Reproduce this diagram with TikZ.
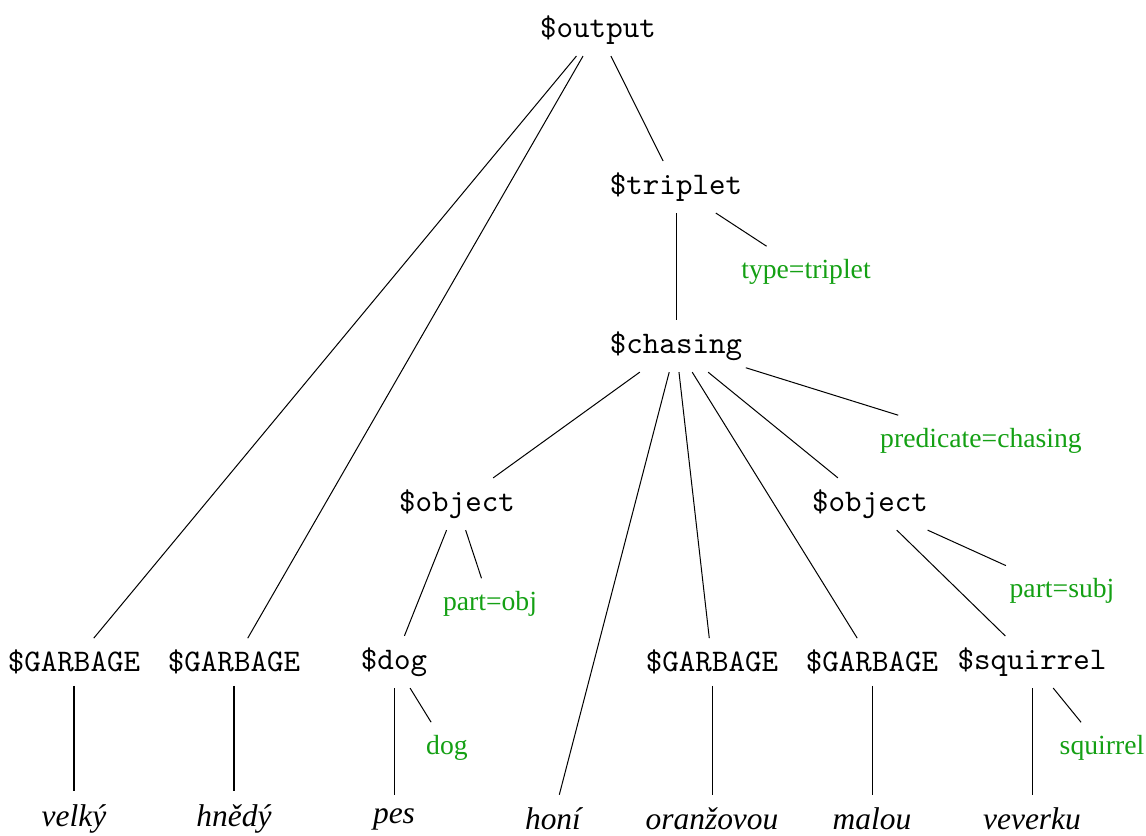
\documentclass[tikz,border=0pt]{standalone}
\usepackage{fontspec}
\setmainfont{Liberation Serif}
\setmonofont{Latin Modern Mono}
\definecolor{attrgreen}{RGB}{20,160,20}
\begin{document}
\begin{tikzpicture}[x=0.318pt,y=-0.318pt,
  nt/.style={font=\ttfamily, inner xsep=1pt, inner ysep=3.5pt},
  word/.style={font=\itshape, inner xsep=1pt, inner ysep=4pt},
  attr/.style={font=\fontsize{8.8}{10}\selectfont, text=attrgreen, inner xsep=1pt, inner ysep=4pt},
  edge/.style={draw, line width=0.32pt}]
\useasboundingbox (0,0) rectangle (1146,836);

% nonterminals
\node[nt] (out) at (598,30) {\$output};
\node[nt] (trip) at (676,187) {\$triplet};
\node[nt] (chase) at (676,346) {\$chasing};
\node[nt] (objL) at (457,504) {\$object};
\node[nt] (objR) at (870,504) {\$object};
\node[nt] (g1) at (74,662) {\$GARBAGE};
\node[nt] (g2) at (234,662) {\$GARBAGE};
\node[nt] (dog) at (394,662) {\$dog};
\node[nt] (g3) at (712,662) {\$GARBAGE};
\node[nt] (g4) at (872,662) {\$GARBAGE};
\node[nt] (sq) at (1032,662) {\$squirrel};

% attributes
\node[attr] (atrip) at (806,272) {type=triplet};
\node[attr] (apred) at (981,441) {predicate=chasing};
\node[attr] (aobj) at (490,604) {part=obj};
\node[attr] (asubj) at (1062,591) {part=subj};
\node[attr] (adog) at (447,748) {dog};
\node[attr] (asq) at (1102,748) {squirrel};

% words
\node[word] (w1) at (74,819) {velký};
\node[word] (w2) at (234,819) {hnědý};
\node[word] (w3) at (394,819) {pes};
\node[word] (w4) at (553,819) {honí};
\node[word] (w5) at (712,819) {oranžovou};
\node[word] (w6) at (872,819) {malou};
\node[word] (w7) at (1032,819) {veverku};

% edges
\draw[edge] (out) -- (g1);
\draw[edge] (out) -- (g2);
\draw[edge] (out) -- (trip);
\draw[edge] (trip) -- (atrip);
\draw[edge] (trip) -- (chase);
\draw[edge] (chase) -- (objL);
\draw[edge] (chase) -- (w4);
\draw[edge] (chase) -- (g3);
\draw[edge] (chase) -- (g4);
\draw[edge] (chase) -- (objR);
\draw[edge] (chase) -- (apred);
\draw[edge] (objL) -- (dog);
\draw[edge] (objL) -- (aobj);
\draw[edge] (objR) -- (sq);
\draw[edge] (objR) -- (asubj);
\draw[edge] (g1) -- (w1);
\draw[edge] (g2) -- (w2);
\draw[edge] (dog) -- (w3);
\draw[edge] (dog) -- (adog);
\draw[edge] (g3) -- (w5);
\draw[edge] (g4) -- (w6);
\draw[edge] (sq) -- (w7);
\draw[edge] (sq) -- (asq);
\end{tikzpicture}
\end{document}
